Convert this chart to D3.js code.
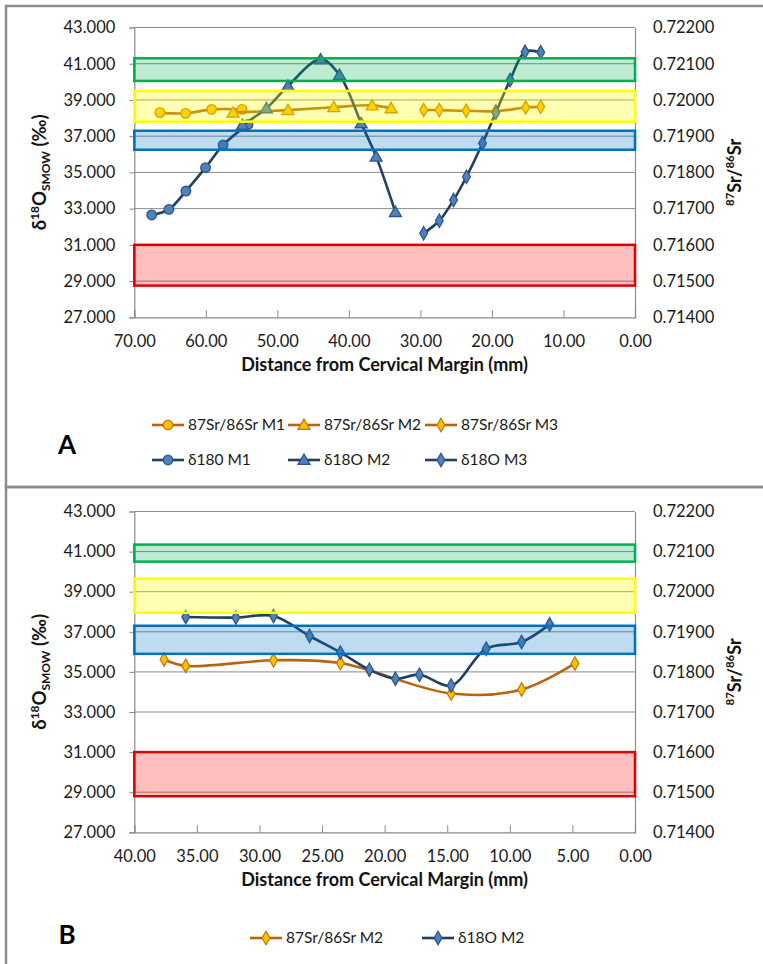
<!DOCTYPE html>
<html>
<head>
<meta charset="utf-8">
<script src="https://cdn.jsdelivr.net/npm/d3@7"></script>
<style>
  html, body { margin: 0; padding: 0; background: #fff; }
  svg { display: block; }
  text { font-family: Lato, "Open Sans", sans-serif; }
</style>
</head>
<body>
<svg id="chart" width="763" height="964"></svg>
<script>
// ---------------- DATA ----------------
// Panel A: distance from cervical margin (mm) and values
const a_d18O_M1_x = [67.57, 65.16, 62.79, 60.04, 57.59, 54.10];
const a_d18O_M1_y = [32.65, 32.96, 33.97, 35.26, 36.51, 37.65];
const a_d18O_M2_x = [54.88, 51.53, 48.52, 43.96, 41.31, 38.28, 36.19, 33.50];
const a_d18O_M2_y = [37.62, 38.54, 39.77, 41.24, 40.38, 37.71, 35.87, 32.81];
const a_d18O_M3_x = [29.55, 27.36, 25.37, 23.56, 21.32, 19.46, 17.46, 15.37, 13.18];
const a_d18O_M3_y = [31.64, 32.33, 33.47, 34.76, 36.61, 38.30, 40.10, 41.66, 41.63];
const a_Sr_M1_x = [66.42, 62.83, 59.20, 54.94];
const a_Sr_M1_y = [0.71965, 0.71963, 0.71974, 0.71974];
const a_Sr_M2_x = [56.19, 48.52, 42.11, 36.75, 34.10];
const a_Sr_M2_y = [0.71965, 0.71972, 0.71980, 0.71985, 0.71977];
const a_Sr_M3_x = [29.55, 27.36, 23.60, 19.46, 15.28, 13.18];
const a_Sr_M3_y = [0.71972, 0.71972, 0.71970, 0.71969, 0.71979, 0.71981];

// Panel B
const b_d18O_M2_x = [35.89, 31.89, 28.88, 26.00, 23.54, 21.22, 19.14, 17.22, 14.69, 11.89, 9.06, 6.82];
const b_d18O_M2_y = [37.74, 37.71, 37.79, 36.79, 35.97, 35.11, 34.66, 34.86, 34.32, 36.16, 36.49, 37.37];
const b_Sr_M2_x = [37.62, 35.89, 28.88, 23.54, 14.69, 9.06, 4.80];
const b_Sr_M2_y = [0.71831, 0.71815, 0.71829, 0.71822, 0.71746, 0.71756, 0.71821];

// Reference bands (δ18O units): green, yellow, blue, red
const bandFill = ["#00b050", "#ffff00", "#0070c0", "#ff0000"];
const bandStroke = ["#00b050", "#ffff00", "#0070c0", "#e00000"];
const a_band_top = [41.30, 39.50, 37.30, 31.00];
const a_band_bottom = [40.05, 37.80, 36.25, 28.75];
const b_band_top = [41.35, 39.65, 37.30, 31.00];
const b_band_bottom = [40.50, 37.95, 35.90, 28.80];

// Axis ticks
const leftTicks = [27, 29, 31, 33, 35, 37, 39, 41, 43];
const rightTicks = [0.714, 0.715, 0.716, 0.717, 0.718, 0.719, 0.720, 0.721, 0.722];
const a_xTicks = [70, 60, 50, 40, 30, 20, 10, 0];
const b_xTicks = [40, 35, 30, 25, 20, 15, 10, 5, 0];

const xTitle = "Distance from Cervical Margin (mm)";
const a_legend = ["87Sr/86Sr M1", "87Sr/86Sr M2", "87Sr/86Sr M3", "δ180 M1", "δ18O M2", "δ18O M3"];
const b_legend = ["87Sr/86Sr M2", "δ18O M2"];

// ---------------- STYLE ----------------
const SR_LINE = "#b8640f", SR_FILL = "#ffc000", SR_STROKE = "#c27c00";
const O_LINE = "#213f63", O_FILL = "#4f81bd", O_STROKE = "#2f5589";
const GRID = "#8a8a8a";

const svg = d3.select("#chart");

// Panel frames
svg.append("rect").attr("x", 6).attr("y", 6).attr("width", 800).attr("height", 481)
  .attr("fill", "none").attr("stroke", "#8c8c8c").attr("stroke-width", 2.5);
svg.append("rect").attr("x", 6).attr("y", 487).attr("width", 800).attr("height", 500)
  .attr("fill", "none").attr("stroke", "#8c8c8c").attr("stroke-width", 2.5);

const symbolFor = { circle: d3.symbolCircle, triangle: d3.symbolTriangle, diamond: d3.symbolDiamond };
const symbolSize = { circle: 72, triangle: 62, diamond: 52 };

function marker(g, kind, x, y, fill, stroke) {
  g.append("path")
    .attr("d", d3.symbol().type(symbolFor[kind]).size(symbolSize[kind])())
    .attr("transform", `translate(${x},${y + (kind === "triangle" ? 1 : 0)})`)
    .attr("fill", fill).attr("stroke", stroke).attr("stroke-width", 1.3);
}

function drawPanel(opt) {
  const g = svg.append("g");
  const x = d3.scaleLinear().domain(opt.xDomain).range([opt.left, opt.right]);
  const yL = d3.scaleLinear().domain([27, 43]).range([opt.bottom, opt.top]);
  const yR = d3.scaleLinear().domain([0.714, 0.722]).range([opt.bottom, opt.top]);

  // gridlines
  g.append("g").selectAll("line").data(leftTicks.filter(t => t > 27)).join("line")
    .attr("x1", opt.left).attr("x2", opt.right)
    .attr("y1", d => yL(d)).attr("y2", d => yL(d))
    .attr("stroke", GRID).attr("stroke-width", 1);

  // left axis
  const axL = g.append("g").attr("transform", `translate(${opt.left},0)`)
    .call(d3.axisLeft(yL).tickValues(leftTicks).tickFormat(d3.format(".3f")).tickSize(5).tickPadding(14));
  // right axis
  const axR = g.append("g").attr("transform", `translate(${opt.right},0)`)
    .call(d3.axisRight(yR).tickValues(rightTicks).tickFormat(d3.format(".5f")).tickSize(0).tickPadding(18));
  // bottom axis
  const axB = g.append("g").attr("transform", `translate(0,${opt.bottom})`)
    .call(d3.axisBottom(x).tickValues(opt.xTicks).tickFormat(d3.format(".2f")).tickSize(-7).tickPadding(18));
  [axL, axR, axB].forEach(a => {
    a.select(".domain").attr("stroke", GRID).attr("stroke-width", 1.2);
    a.selectAll(".tick line").attr("stroke", GRID);
    a.selectAll("text").attr("font-size", 16.5).attr("fill", "#1a1a1a")
      .attr("font-family", "Lato, sans-serif");
  });
  axB.selectAll("text").attr("dy", "0.71em");

  const curve = d3.curveCatmullRom.alpha(0.5);

  // Sr series (right axis)
  opt.sr.forEach(s => {
    const pts = s.x.map((d, i) => [x(d), yR(s.y[i])]);
    g.append("path").attr("d", d3.line().curve(curve)(pts))
      .attr("fill", "none").attr("stroke", SR_LINE).attr("stroke-width", 2.6);
    pts.forEach(p => marker(g, s.kind, p[0], p[1], SR_FILL, SR_STROKE));
  });
  // δ18O series (left axis)
  opt.o.forEach(s => {
    const pts = s.x.map((d, i) => [x(d), yL(s.y[i])]);
    g.append("path").attr("d", d3.line().curve(curve)(pts))
      .attr("fill", "none").attr("stroke", O_LINE).attr("stroke-width", 2.6);
    pts.forEach(p => marker(g, s.kind, p[0], p[1], O_FILL, O_STROKE));
  });

  // translucent bands drawn on top
  opt.bandTop.forEach((t, i) => {
    g.append("rect")
      .attr("x", opt.left).attr("width", opt.right - opt.left)
      .attr("y", yL(t)).attr("height", yL(opt.bandBottom[i]) - yL(t))
      .attr("fill", bandFill[i]).attr("fill-opacity", i === 1 ? 0.3 : 0.25)
      .attr("stroke", bandStroke[i]).attr("stroke-width", 2.5);
  });

  // axis titles
  const cy = (opt.top + opt.bottom) / 2;
  const lt = g.append("text").attr("transform", `translate(46,${cy}) rotate(-90)`)
    .attr("text-anchor", "middle").attr("font-weight", "bold").attr("font-size", 18.5).attr("fill", "#111");
  lt.append("tspan").text("δ");
  lt.append("tspan").text("18").attr("font-size", 12).attr("dy", -7);
  lt.append("tspan").text("O").attr("dy", 7);
  lt.append("tspan").text("SMOW").attr("font-size", 12).attr("dy", 4);
  lt.append("tspan").text(" (‰)").attr("dy", -4);

  const rt = g.append("text").attr("transform", `translate(741,${cy}) rotate(-90)`)
    .attr("text-anchor", "middle").attr("font-weight", "bold").attr("font-size", 18).attr("fill", "#111");
  rt.append("tspan").text("87").attr("font-size", 11.5).attr("dy", -7);
  rt.append("tspan").text("Sr/").attr("dy", 7);
  rt.append("tspan").text("86").attr("font-size", 11.5).attr("dy", -7);
  rt.append("tspan").text("Sr").attr("dy", 7);

  g.append("text").attr("x", (opt.left + opt.right) / 2).attr("y", opt.bottom + 54)
    .attr("text-anchor", "middle").attr("font-weight", "bold").attr("font-size", 18).attr("fill", "#111")
    .text(xTitle);

  // panel letter
  g.append("text").attr("x", 67).attr("y", opt.letterY).attr("text-anchor", "middle")
    .attr("font-family", "Liberation Sans, Arial, sans-serif").attr("font-weight", "bold")
    .attr("font-size", 26).attr("fill", "#000").text(opt.letter);

  // legend
  opt.legend.forEach(item => {
    const lg = g.append("g").attr("transform", `translate(${item.x},${item.y})`);
    lg.append("line").attr("x1", 0).attr("x2", 32).attr("y1", 0).attr("y2", 0)
      .attr("stroke", item.sr ? SR_LINE : O_LINE).attr("stroke-width", 2.6);
    marker(lg, item.kind, 16, 0, item.sr ? SR_FILL : O_FILL, item.sr ? SR_STROKE : O_STROKE);
    lg.append("text").attr("x", 36).attr("y", 0).attr("dy", "0.35em")
      .attr("font-size", 15.5).attr("fill", "#1a1a1a").text(item.label);
  });
}

drawPanel({
  left: 134.3, right: 635, top: 27.5, bottom: 317.3,
  xDomain: [70, 0], xTicks: a_xTicks,
  sr: [
    { x: a_Sr_M1_x, y: a_Sr_M1_y, kind: "circle" },
    { x: a_Sr_M2_x, y: a_Sr_M2_y, kind: "triangle" },
    { x: a_Sr_M3_x, y: a_Sr_M3_y, kind: "diamond" }
  ],
  o: [
    { x: a_d18O_M1_x, y: a_d18O_M1_y, kind: "circle" },
    { x: a_d18O_M2_x, y: a_d18O_M2_y, kind: "triangle" },
    { x: a_d18O_M3_x, y: a_d18O_M3_y, kind: "diamond" }
  ],
  bandTop: a_band_top, bandBottom: a_band_bottom,
  letter: "A", letterY: 454,
  legend: [
    { x: 152, y: 425, sr: true, kind: "circle", label: a_legend[0] },
    { x: 288, y: 425, sr: true, kind: "triangle", label: a_legend[1] },
    { x: 425, y: 425, sr: true, kind: "diamond", label: a_legend[2] },
    { x: 152, y: 460, sr: false, kind: "circle", label: a_legend[3] },
    { x: 288, y: 460, sr: false, kind: "triangle", label: a_legend[4] },
    { x: 425, y: 460, sr: false, kind: "diamond", label: a_legend[5] }
  ]
});

drawPanel({
  left: 134.3, right: 635, top: 511.5, bottom: 832.3,
  xDomain: [40, 0], xTicks: b_xTicks,
  sr: [{ x: b_Sr_M2_x, y: b_Sr_M2_y, kind: "diamond" }],
  o: [{ x: b_d18O_M2_x, y: b_d18O_M2_y, kind: "diamond" }],
  bandTop: b_band_top, bandBottom: b_band_bottom,
  letter: "B", letterY: 944,
  legend: [
    { x: 250, y: 938, sr: true, kind: "diamond", label: b_legend[0] },
    { x: 422, y: 938, sr: false, kind: "diamond", label: b_legend[1] }
  ]
});
</script>
</body>
</html>
